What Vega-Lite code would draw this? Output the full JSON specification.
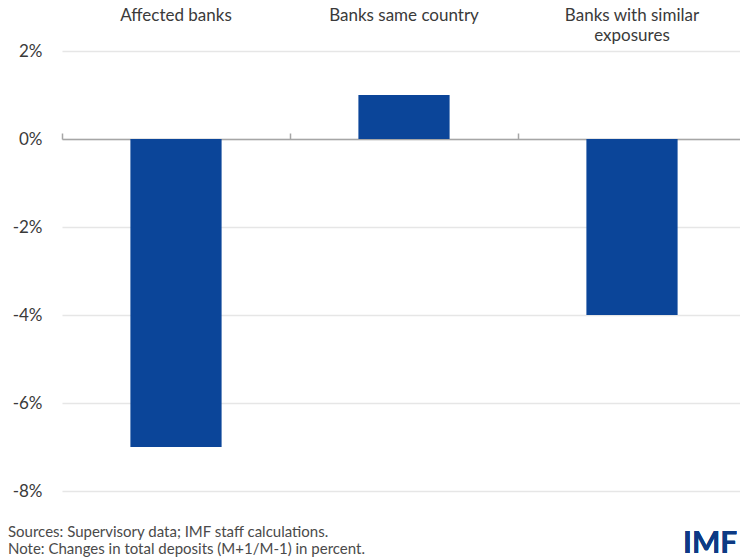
{
  "$schema": "https://vega.github.io/schema/vega-lite/v6.json",
  "autosize": {"type": "none"},
  "padding": {"left": 62, "top": 51, "right": 0, "bottom": 69},
  "width": 684,
  "height": 440,
  "background": "white",
  "config": {
    "view": {"stroke": null},
    "font": "Lato",
    "axis": {"labelFont": "Lato", "labelColor": "#3a3a3a"}
  },
  "title": {
    "text": ["Sources: Supervisory data; IMF staff calculations.", "Note: Changes in total deposits (M+1/M-1) in percent."],
    "orient": "bottom",
    "anchor": "start",
    "frame": "group",
    "dx": -54,
    "offset": -34,
    "fontSize": 15,
    "fontWeight": "normal",
    "color": "#4a4a4a",
    "lineHeight": 17
  },
  "data": {
    "values": [
      {"group": "Affected banks", "change": -7},
      {"group": "Banks same country", "change": 1},
      {"group": "Banks with similar exposures", "change": -4}
    ]
  },
  "resolve": {"axis": {"x": "independent", "y": "independent"}},
  "layer": [
    {
      "mark": {"type": "bar", "color": "#0b4599"},
      "encoding": {
        "x": {
          "field": "group",
          "type": "nominal",
          "sort": null,
          "scale": {"paddingInner": 0.6, "paddingOuter": 0.3},
          "axis": {
            "orient": "top",
            "title": null,
            "domain": false,
            "ticks": false,
            "grid": false,
            "labelAngle": 0,
            "labelFontSize": 17,
            "labelBaseline": "top",
            "labelPadding": 44,
            "labelLineHeight": 20,
            "labelExpr": "datum.value == 'Banks with similar exposures' ? ['Banks with similar', 'exposures'] : datum.value"
          }
        },
        "y": {
          "field": "change",
          "type": "quantitative",
          "scale": {"domain": [-8, 2], "nice": false},
          "axis": {
            "title": null,
            "values": [-8, -6, -4, -2, 0, 2],
            "labelExpr": "datum.value + '%'",
            "domain": false,
            "ticks": false,
            "tickSize": 0,
            "labelPadding": 20,
            "labelFontSize": 17,
            "gridColor": "#e6e6e6",
            "gridWidth": 1.5
          }
        }
      }
    },
    {
      "mark": {"type": "text", "text": "IMF", "align": "left", "baseline": "alphabetic", "dx": 51, "fontSize": 30, "fontWeight": "bold", "color": "#0d3a85", "clip": false},
      "encoding": {
        "x": {
          "datum": "Banks with similar exposures",
          "type": "nominal",
          "axis": {
            "orient": "bottom",
            "offset": -352,
            "title": null,
            "labels": false,
            "grid": false,
            "domainColor": "#a6a6a6",
            "domainWidth": 1.5,
            "ticks": true,
            "tickOffset": -114,
            "tickColor": "#a6a6a6",
            "tickSize": -6,
            "tickWidth": 1.5
          }
        },
        "y": {"datum": -9.42, "type": "quantitative", "axis": null}
      }
    }
  ]
}
